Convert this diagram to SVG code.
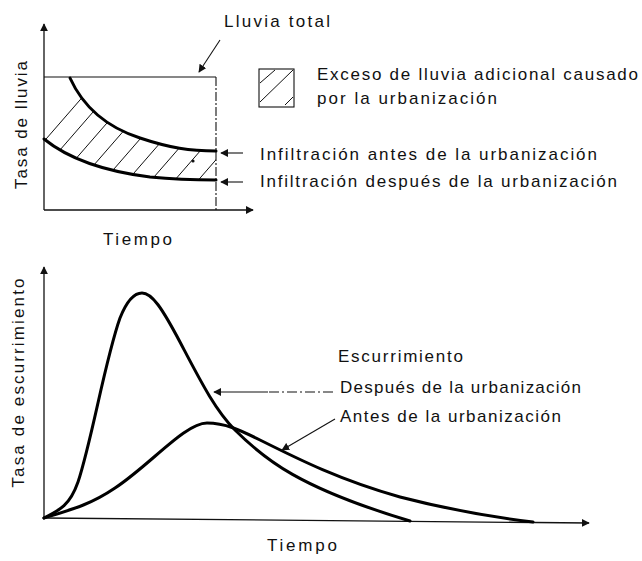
<svg xmlns="http://www.w3.org/2000/svg" width="642" height="561" viewBox="0 0 642 561">
<style>
text{font-family:"Liberation Sans","DejaVu Sans",sans-serif;font-size:17px;fill:#111}
.axis{stroke:#111;stroke-width:1.3;fill:none}
.curve{stroke:#000;stroke-width:3;fill:none;stroke-linecap:round;stroke-linejoin:round}
.thin{stroke:#111;stroke-width:1.1;fill:none}
.hatch{stroke:#111;stroke-width:1;fill:none}
.lead{stroke:#111;stroke-width:1.1;fill:none}
</style>
<defs>
<marker id="ah" viewBox="0 0 10 10" refX="9" refY="5" markerWidth="8" markerHeight="8" markerUnits="userSpaceOnUse" orient="auto">
<path d="M0,0 L10,5 L0,10 Z" fill="#111"/>
</marker>
<clipPath id="hclip">
<path d="M44,78 L70,78 C80,100 100,125 140,138 C170,148 190,151 216,151 L216,180 C200,180 180,180 150,177 C110,172 70,160 44,139 Z"/>
</clipPath>
</defs>
<rect width="642" height="561" fill="#fff"/>

<g id="top-chart">
<line class="axis" x1="44" y1="210" x2="44" y2="24" marker-end="url(#ah)"/>
<line class="axis" x1="44" y1="210" x2="253" y2="210" marker-end="url(#ah)"/>
<line class="thin" x1="44" y1="77" x2="216" y2="77"/>
<line class="thin" x1="216" y1="77" x2="216" y2="210" stroke-dasharray="9,2,2,2"/>
<g clip-path="url(#hclip)">
<path class="hatch" d="M-7,200 l140,-161 M16.5,200 l140,-161 M40,200 l140,-161 M63.5,200 l140,-161 M87,200 l140,-161 M110.5,200 l140,-161 M134,200 l140,-161 M157.5,200 l140,-161 M181,200 l140,-161 M204.5,200 l140,-161 M228,200 l140,-161"/>
</g>
<path class="curve" d="M70,78 C80,100 100,125 140,138 C170,148 190,151 216,151"/>
<path class="curve" d="M44,139 C70,160 110,172 150,177 C180,180 200,180 216,180"/>
<circle cx="193" cy="161" r="1.6" fill="#111"/>
<text transform="translate(27,125) rotate(-90)" text-anchor="middle" textLength="128" lengthAdjust="spacing">Tasa de lluvia</text>
<text x="103" y="245" textLength="69" lengthAdjust="spacing">Tiempo</text>
</g>

<g id="legend">
<rect x="259" y="69" width="35" height="38" fill="none" stroke="#111" stroke-width="1.1"/>
<path class="hatch" d="M260,102 L293,70 M260,83 L275,70 M285,105 L293,97"/>
<text x="317" y="80" textLength="321" lengthAdjust="spacing">Exceso de lluvia adicional causado</text>
<text x="317" y="104" textLength="180" lengthAdjust="spacing">por la urbanización</text>
</g>

<g id="label-lluvia-total">
<text x="224" y="27" textLength="106" lengthAdjust="spacing">Lluvia total</text>
</g>
<g id="label-inf-antes">
<text x="260" y="160" textLength="337" lengthAdjust="spacing">Infiltración antes de la urbanización</text>
</g>
<g id="label-inf-despues">
<text x="260" y="187" textLength="357" lengthAdjust="spacing">Infiltración después de la urbanización</text>
</g>

<g id="bottom-chart">
<line class="axis" x1="44" y1="518" x2="44" y2="267" marker-end="url(#ah)"/>
<line class="axis" x1="44" y1="518" x2="589" y2="523" marker-end="url(#ah)"/>
<path class="curve" d="M44,518 C70,510 90,505 115,488 C150,465 185,423 207,423 C225,423 240,430 260,440 C300,460 340,480 400,497 C450,510 500,518 533,522"/>
<path class="curve" d="M44,518 C60,510 70,505 78,482 C92,440 105,360 120,318 C128,298 136,293 142,293 C152,293 162,308 180,342 C200,380 215,410 235,430 C265,460 300,488 410,521"/>
<text transform="translate(24,383) rotate(-90)" text-anchor="middle" textLength="209" lengthAdjust="spacing">Tasa de escurrimiento</text>
<text x="267" y="551" textLength="70" lengthAdjust="spacing">Tiempo</text>
</g>

<g id="label-escurrimiento">
<text x="338" y="362" textLength="125" lengthAdjust="spacing">Escurrimiento</text>
</g>
<g id="label-despues">
<text x="340" y="393" textLength="241" lengthAdjust="spacing">Después de la urbanización</text>
</g>
<g id="label-antes">
<text x="340" y="422" textLength="221" lengthAdjust="spacing">Antes de la urbanización</text>
</g>

<g id="connectors">
<line class="lead" x1="220" y1="40" x2="199" y2="72" marker-end="url(#ah)"/>
<line class="lead" x1="243" y1="153" x2="221" y2="153" marker-end="url(#ah)"/>
<line class="lead" x1="243" y1="182" x2="221" y2="182" marker-end="url(#ah)"/>
<path class="lead" d="M333,392 L268,392" stroke-dasharray="10,3,2,3"/>
<line class="lead" x1="268" y1="392" x2="214" y2="392" marker-end="url(#ah)"/>
<line class="lead" x1="335" y1="419" x2="282" y2="450" marker-end="url(#ah)"/>
</g>
</svg>
